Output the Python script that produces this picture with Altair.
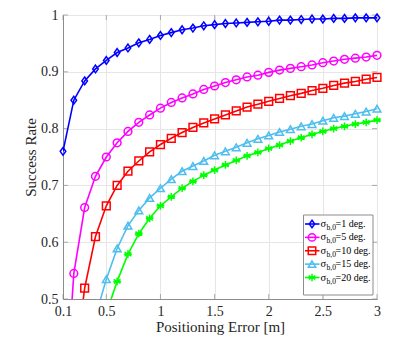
import altair as alt
import pandas as pd

# ---------------- data ----------------
x_vals = [0.1, 0.2, 0.3, 0.4, 0.5, 0.6, 0.7, 0.8, 0.9, 1.0,
          1.1, 1.2, 1.3, 1.4, 1.5, 1.6, 1.7, 1.8, 1.9, 2.0,
          2.1, 2.2, 2.3, 2.4, 2.5, 2.6, 2.7, 2.8, 2.9, 3.0]

s1 = [0.760, 0.850, 0.884, 0.905, 0.920, 0.934, 0.942, 0.951, 0.957, 0.964,
      0.969, 0.974, 0.977, 0.981, 0.983, 0.985, 0.986, 0.987, 0.988, 0.989,
      0.991, 0.991, 0.992, 0.993, 0.993, 0.994, 0.994, 0.995, 0.995, 0.995]
s5 = [0.26, 0.545, 0.661, 0.716, 0.750, 0.775, 0.795, 0.811, 0.824, 0.836,
      0.846, 0.854, 0.861, 0.869, 0.875, 0.881, 0.886, 0.891, 0.894, 0.899,
      0.903, 0.906, 0.909, 0.912, 0.916, 0.919, 0.922, 0.924, 0.926, 0.929]
s10 = [None, 0.37, 0.519, 0.610, 0.664, 0.700, 0.725, 0.743, 0.759, 0.772,
       0.783, 0.793, 0.802, 0.810, 0.817, 0.824, 0.831, 0.838, 0.843, 0.848,
       0.853, 0.858, 0.862, 0.867, 0.871, 0.876, 0.880, 0.883, 0.887, 0.890]
s15 = [None, None, None, 0.469, 0.535, 0.589, 0.629, 0.656, 0.678, 0.695,
       0.711, 0.725, 0.734, 0.743, 0.753, 0.760, 0.767, 0.775, 0.782, 0.788,
       0.794, 0.799, 0.804, 0.808, 0.814, 0.819, 0.822, 0.826, 0.830, 0.835]
s20 = [None, None, None, None, 0.475, 0.531, 0.579, 0.615, 0.642, 0.664,
       0.680, 0.695, 0.707, 0.718, 0.727, 0.736, 0.744, 0.752, 0.758, 0.765,
       0.771, 0.778, 0.784, 0.790, 0.795, 0.800, 0.804, 0.808, 0.811, 0.815]

sigma_vals = [1, 5, 10, 15, 20]
series_names = ["1 deg", "5 deg", "10 deg", "15 deg", "20 deg"]
series_data = [s1, s5, s10, s15, s20]
colors = ["#0000FF", "#FF00FF", "#FF0000", "#4DBEEE", "#00FF00"]
shapes = ["M0,-1L0.72,0L0,1L-0.72,0Z",
          "circle",
          "square",
          "triangle-up",
          "M0,-1L0,1M-0.87,-0.5L0.87,0.5M-0.87,0.5L0.87,-0.5M-1,0L1,0"]

x_ticks = [0.1, 0.5, 1, 1.5, 2, 2.5, 3]
y_ticks = [0.5, 0.6, 0.7, 0.8, 0.9, 1.0]

# ---------------- tables ----------------
rows = []
for name, vals in zip(series_names, series_data):
    for xv, yv in zip(x_vals, vals):
        if yv is not None:
            rows.append({"x": xv, "y": yv, "series": name})
df = pd.DataFrame(rows)
df_pts = df[df["y"] >= 0.5]

leg = pd.DataFrame({
    "idx": list(range(len(series_names))),
    "series": series_names,
    "sym": ["σ"] * len(series_names),
    "sub": ["b,0"] * len(series_names),
    "rest": ["=" + str(v) + " deg." for v in sigma_vals],
})
xt_df = pd.DataFrame({"x": x_ticks})
yt_df = pd.DataFrame({"y": y_ticks})

FONT = "Liberation Serif"
TXT = "#262626"
GRID = "#e6e6e6"
BOX = "#8c8c8c"
W, H = 314, 284

color_scale = alt.Scale(domain=series_names, range=colors)
shape_scale = alt.Scale(domain=series_names, range=shapes)
xscale = alt.Scale(domain=[0.1, 3], nice=False, zero=False)
yscale = alt.Scale(domain=[0.5, 1], nice=False, zero=False)

xenc = alt.X("x:Q", scale=xscale,
             axis=alt.Axis(values=x_ticks, labelExpr="toString(datum.value)",
                           title="Positioning Error [m]", labelFlush=False,
                           labelFont=FONT, labelFontSize=14, labelColor=TXT,
                           titleFont=FONT, titleFontSize=15, titleFontWeight="normal",
                           titleColor=TXT, titlePadding=1, labelPadding=5,
                           ticks=False, gridColor=GRID, domainColor=BOX))
yenc = alt.Y("y:Q", scale=yscale,
             axis=alt.Axis(values=y_ticks, labelExpr="toString(datum.value)",
                           title="Success Rate",
                           labelFont=FONT, labelFontSize=14, labelColor=TXT,
                           titleFont=FONT, titleFontSize=15, titleFontWeight="normal",
                           titleColor=TXT, titlePadding=2, labelPadding=5,
                           ticks=False, gridColor=GRID, domainColor=BOX))

lines = alt.Chart(df).mark_line(strokeWidth=1.6, clip=True).encode(
    x=xenc, y=yenc,
    color=alt.Color("series:N", scale=color_scale, legend=None),
    detail="series:N",
)
points = alt.Chart(df_pts).mark_point(filled=False, strokeWidth=1.5, size=60, opacity=1).encode(
    x=xenc, y=yenc,
    color=alt.Color("series:N", scale=color_scale, legend=None),
    shape=alt.Shape("series:N", scale=shape_scale, legend=None),
)
# inward tick marks (MATLAB style) on all four sides
tb = alt.Chart(xt_df).mark_tick(size=5, thickness=1, color=BOX).encode(
    x=alt.X("x:Q", scale=xscale), y=alt.value(H - 2.5))
tt = alt.Chart(xt_df).mark_tick(size=5, thickness=1, color=BOX).encode(
    x=alt.X("x:Q", scale=xscale), y=alt.value(2.5))
tl = alt.Chart(yt_df).mark_tick(size=5, thickness=1, color=BOX).encode(
    y=alt.Y("y:Q", scale=yscale), x=alt.value(2.5))
tr = alt.Chart(yt_df).mark_tick(size=5, thickness=1, color=BOX).encode(
    y=alt.Y("y:Q", scale=yscale), x=alt.value(W - 2.5))
data_layer = alt.layer(tb, tt, tl, tr, lines, points)

# ---------------- manual legend ----------------
ly = alt.Y("idx:Q", scale=alt.Scale(domain=[0, 4], range=[209, 262.5], nice=False, zero=False), axis=None)

box = alt.Chart(pd.DataFrame({"a": [0]})).mark_rect(
    fill="white", stroke=BOX, strokeWidth=1).encode(
    x=alt.value(240.5), x2=alt.value(310), y=alt.value(200), y2=alt.value(280))
leg_line = alt.Chart(leg).mark_rule(strokeWidth=1.6).encode(
    x=alt.value(242), x2=alt.value(256.5), y=ly,
    color=alt.Color("series:N", scale=color_scale, legend=None))
leg_pt = alt.Chart(leg).mark_point(filled=False, strokeWidth=1.5, size=56, opacity=1).encode(
    x=alt.value(249), y=ly,
    color=alt.Color("series:N", scale=color_scale, legend=None),
    shape=alt.Shape("series:N", scale=shape_scale, legend=None))
leg_sym = alt.Chart(leg).mark_text(font=FONT, fontSize=10.5, align="left", baseline="middle",
                                   color="#000000").encode(
    x=alt.value(257.5), y=ly, text="sym:N")
leg_sub = alt.Chart(leg).mark_text(font=FONT, fontSize=7.5, align="left", baseline="middle",
                                   color="#000000", dy=4).encode(
    x=alt.value(263.5), y=ly, text="sub:N")
leg_rest = alt.Chart(leg).mark_text(font=FONT, fontSize=10, align="left", baseline="middle",
                                    color="#000000").encode(
    x=alt.value(272.5), y=ly, text="rest:N")
legend_layer = alt.layer(box, leg_line, leg_pt, leg_sym, leg_sub, leg_rest)

chart = alt.layer(data_layer, legend_layer).resolve_scale(y="independent").properties(
    width=W, height=H,
    autosize=alt.AutoSizeParams(type="none"),
    padding={"left": 55, "top": 7, "right": 24, "bottom": 38},
    background="white",
).configure_view(stroke=BOX, strokeWidth=1)

chart.save("out.html", embed_options={"renderer": "svg", "actions": False})
